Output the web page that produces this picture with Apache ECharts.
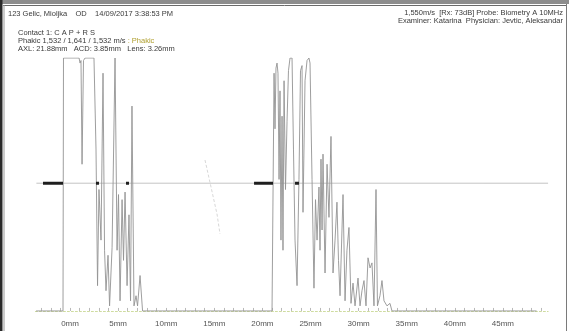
<!DOCTYPE html>
<html>
<head>
<meta charset="utf-8">
<script src="https://cdn.jsdelivr.net/npm/echarts@6/dist/echarts.min.js"></script>
<style>
  html, body { margin: 0; padding: 0; background: #fff; }
  #chart { width: 569px; height: 331px; }
</style>
</head>
<body>
<div id="chart"></div>
<script>
// A-scan echo trace: depth along the probe axis (mm) and echo amplitude (% of full scale)
const depthMm = [
  -3.53, -0.73, -0.68, 0.94, 1.04, 1.14, 1.25, 1.40, 1.56, 2.49,
  2.70, 2.86, 3.01, 3.22, 3.43, 3.59, 3.74, 3.95, 4.11, 4.37,
  4.68, 4.89, 5.04, 5.20, 5.41, 5.56, 5.72, 5.93, 6.13, 6.29,
  6.44, 6.65, 6.86, 7.02, 7.28, 7.54, 21.00,
  21.05, 21.21, 21.31, 21.41, 21.52, 21.62, 21.73, 21.83, 21.93, 22.04,
  22.14, 22.25, 22.40, 22.56, 22.71, 22.87, 23.08, 23.23, 23.39, 23.60,
  23.80, 23.96, 24.12, 24.22, 24.43, 24.64, 24.84, 24.95, 25.16, 25.36,
  25.52, 25.68, 25.88, 25.99, 26.09, 26.20, 26.30, 26.51, 26.72, 26.92,
  27.13, 27.34, 27.55, 27.75, 27.91, 28.07, 28.38, 28.59, 28.79, 29.00,
  29.21, 29.42, 29.63, 29.94, 30.15, 30.35, 30.56, 30.77, 30.98, 31.19,
  31.39, 31.60, 31.81, 31.96, 32.22, 32.43, 32.64, 32.95, 33.26, 33.47,
  48.50
];
const echoAmp = [
  0, 0, 100, 100, 98, 99, 58, 99, 100, 100,
  64, 10, 48, 28, 94, 24, 8, 22, 2, 25,
  100, 24, 46, 4, 44, 20, 47, 10, 38, 4,
  81, 2, 6, 2, 14, 0, 0,
  0, 94, 72, 96, 98, 94, 52, 87, 28, 77,
  24, 91, 48, 75, 95, 100, 100, 64, 28, 10,
  52, 95, 97, 39, 91, 99, 100, 98, 52, 9,
  44, 28, 49, 24, 60, 32, 62, 15, 58, 37,
  69, 15, 28, 43, 20, 6, 46, 4, 24, 33,
  3, 11, 2, 13, 2, 8, 12, 2, 21, 17,
  19, 2, 48, 2, 6, 12, 4, 2, 3, 0,
  0
];

// Gate level and the gated spans (mm) drawn as heavy markers on it
const gateLevel = 50.5;
const gateSpans = [
  [-2.81, -0.73],
  [2.70, 3.01],
  [5.82, 6.13],
  [19.13, 21.10],
  [23.39, 23.80]
];

// Depth scale: labelled every 5 mm, minor ticks every 1 mm
const depthLabels = [0, 5, 10, 15, 20, 25, 30, 35, 40, 45];
const depthTicks = [];
for (let d = -3; d <= 49; d++) depthTicks.push(d);

// Printout header
const headerLeft = '123 Gelic, Mioljka    OD    14/09/2017 3:38:53 PM';
const headerRight1 = '1,550m/s  [Rx: 73dB] Probe: Biometry A 10MHz';
const headerRight2 = 'Examiner: Katarina  Physician: Jevtic, Aleksandar';
const infoContact = 'Contact 1: C A P + R S';
const infoVelocity = 'Phakic 1,532 / 1,641 / 1,532 m/s';
const infoLensState = ' : Phakic';
const infoMeasures = 'AXL: 21.88mm   ACD: 3.85mm   Lens: 3.26mm';

const X_MIN = -3.6, X_MAX = 49.7;
const FONT = 'Liberation Sans, Arial, sans-serif';

const chart = echarts.init(document.getElementById('chart'), null, { renderer: 'canvas' });

const series = [
  {
    type: 'line',
    name: 'gate',
    data: [[-3.5, gateLevel], [X_MAX, gateLevel]],
    symbol: 'none',
    lineStyle: { color: '#c4c4c4', width: 1 },
    silent: true,
    z: 1
  },
  {
    type: 'line',
    name: 'echo',
    data: depthMm.map((d, i) => [d, echoAmp[i]]),
    symbol: 'none',
    lineStyle: { color: '#939393', width: 0.9 },
    silent: true,
    z: 2
  }
];
gateSpans.forEach((s, i) => {
  series.push({
    type: 'line',
    name: 'gateSpan' + i,
    data: [[s[0], gateLevel], [s[1], gateLevel]],
    symbol: 'none',
    lineStyle: { color: '#1e1e1e', width: 3 },
    silent: true,
    z: 3
  });
});

const textStyleBase = { fontFamily: FONT, fontSize: 7.5, fill: '#3a3a3a' };

chart.setOption({
  animation: false,
  backgroundColor: '#ffffff',
  grid: { left: 35.4, right: 20.9, top: 58, bottom: 15, containLabel: false },
  xAxis: {
    type: 'value',
    min: X_MIN,
    max: X_MAX,
    splitLine: { show: false },
    axisLine: { show: true, lineStyle: { color: '#cfdca0', width: 1, type: [2, 2] } },
    axisTick: {
      show: true,
      inside: true,
      length: 3,
      customValues: depthTicks,
      lineStyle: { color: '#b9b9b9', width: 1 }
    },
    axisLabel: {
      customValues: depthLabels,
      formatter: v => v + 'mm',
      fontFamily: FONT,
      fontSize: 8,
      color: '#555',
      margin: 4
    }
  },
  yAxis: { type: 'value', min: -2, max: 100, show: false },
  series: series,
  graphic: [
    // page frame
    { type: 'rect', shape: { x: 0, y: 0, width: 569, height: 4 }, style: { fill: '#8d8d8d' }, silent: true },
    { type: 'line', shape: { x1: 3, y1: 5.5, x2: 566, y2: 5.5 }, style: { stroke: '#6a6a6a', lineWidth: 1 }, silent: true },
    { type: 'rect', shape: { x: 0, y: 0, width: 2.5, height: 331 }, style: { fill: '#2a2a2a' }, silent: true },
    { type: 'line', shape: { x1: 4, y1: 5, x2: 4, y2: 331 }, style: { stroke: '#9a9a9a', lineWidth: 1 }, silent: true },
    { type: 'line', shape: { x1: 566.5, y1: 4, x2: 566.5, y2: 331 }, style: { stroke: '#7a7a7a', lineWidth: 1 }, silent: true },
    // faint stray mark in the vitreous region
    {
      type: 'polyline',
      shape: { points: [[205, 160], [209, 178], [213, 196], [217, 214], [220, 234]] },
      style: { stroke: '#cdcdcd', lineWidth: 0.8, lineDash: [3, 2] },
      silent: true
    },
    // header text
    { type: 'text', x: 8, y: 14, style: Object.assign({}, textStyleBase, { text: headerLeft, textVerticalAlign: 'middle' }) },
    { type: 'text', x: 563, y: 13, style: Object.assign({}, textStyleBase, { text: headerRight1, textAlign: 'right', textVerticalAlign: 'middle' }) },
    { type: 'text', x: 563, y: 21, style: Object.assign({}, textStyleBase, { text: headerRight2, textAlign: 'right', textVerticalAlign: 'middle' }) },
    { type: 'text', x: 18, y: 33, style: Object.assign({}, textStyleBase, { text: infoContact, textVerticalAlign: 'middle' }) },
    {
      type: 'text', x: 18, y: 41,
      style: Object.assign({}, textStyleBase, {
        text: '{a|' + infoVelocity + '}{b|' + infoLensState + '}',
        textVerticalAlign: 'middle',
        rich: {
          a: { fontFamily: FONT, fontSize: 7.5, fill: '#3a3a3a' },
          b: { fontFamily: FONT, fontSize: 7.5, fill: '#b0a030' }
        }
      })
    },
    { type: 'text', x: 18, y: 49, style: Object.assign({}, textStyleBase, { text: infoMeasures, textVerticalAlign: 'middle' }) }
  ]
});
</script>
</body>
</html>
